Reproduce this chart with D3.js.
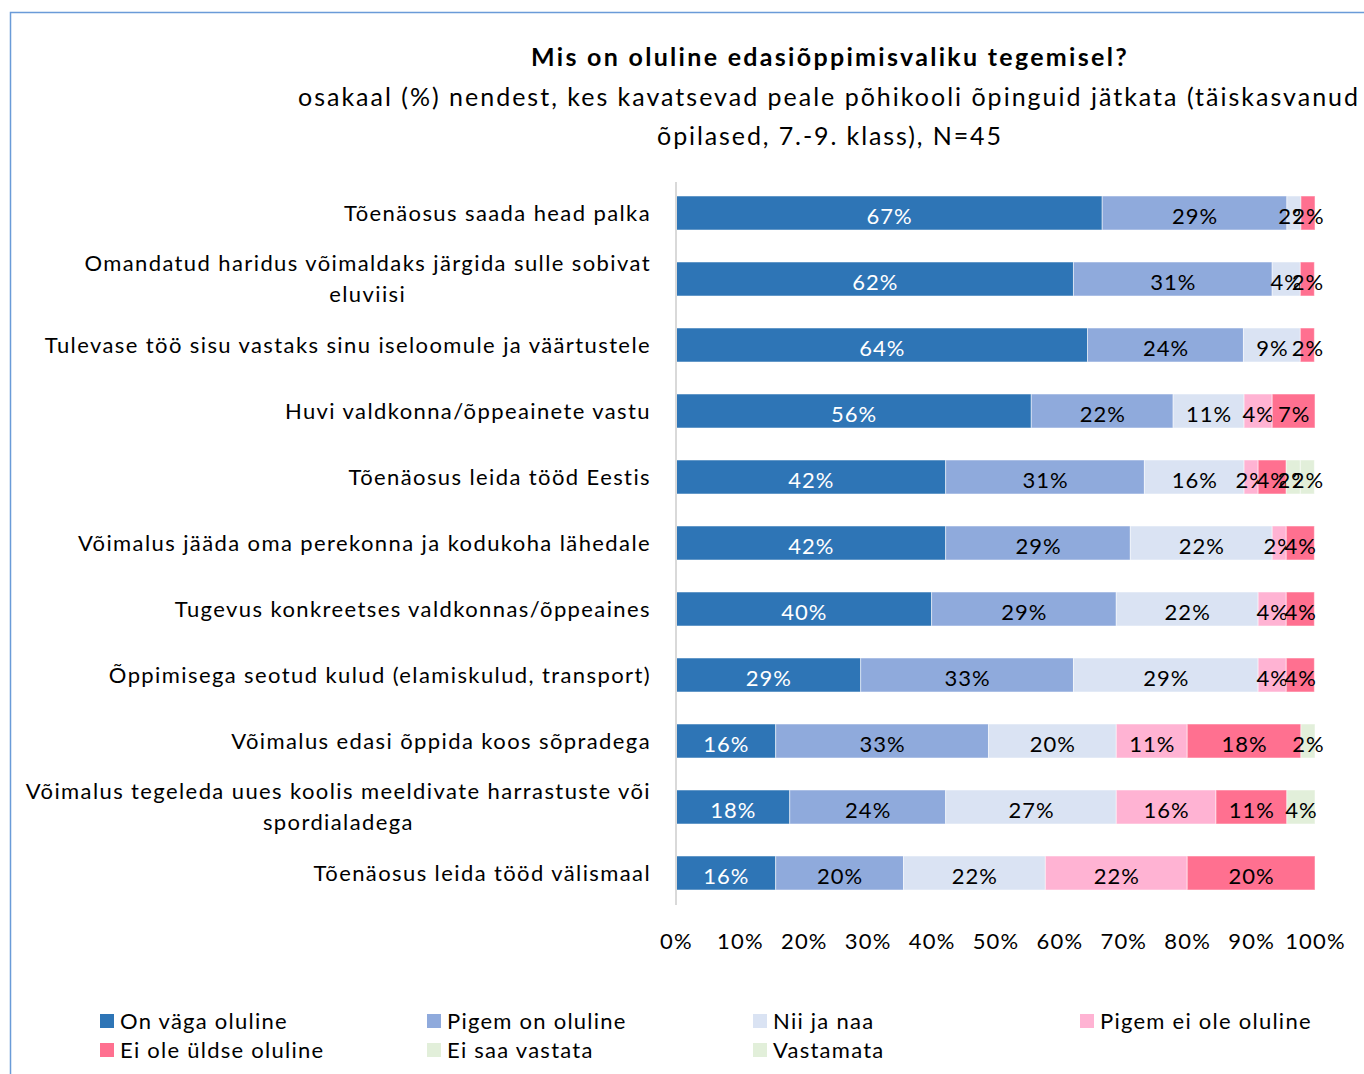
<!DOCTYPE html>
<html>
<head>
<meta charset="utf-8">
<script src="https://cdn.jsdelivr.net/npm/d3@7"></script>
<style>
  html, body { margin: 0; padding: 0; background: #fff; }
  svg { display: block; }
</style>
</head>
<body>
<div id="chart"></div>
<script>
// -------------------- data --------------------
const categories = [
  "Tõenäosus saada head palka",
  "Omandatud haridus võimaldaks järgida sulle sobivat|eluviisi",
  "Tulevase töö sisu vastaks sinu iseloomule ja väärtustele",
  "Huvi valdkonna/õppeainete vastu",
  "Tõenäosus leida tööd Eestis",
  "Võimalus jääda oma perekonna ja kodukoha lähedale",
  "Tugevus konkreetses valdkonnas/õppeaines",
  "Õppimisega seotud kulud (elamiskulud, transport)",
  "Võimalus edasi õppida koos sõpradega",
  "Võimalus tegeleda uues koolis meeldivate harrastuste või|spordialadega",
  "Tõenäosus leida tööd välismaal"
];

const seriesNames = [
  "On väga oluline", "Pigem on oluline", "Nii ja naa", "Pigem ei ole oluline",
  "Ei ole üldse oluline", "Ei saa vastata", "Vastamata"
];

const onVagaOluline  = [66.7, 62.2, 64.4, 55.6, 42.2, 42.2, 40.0, 28.9, 15.6, 17.8, 15.6];
const pigemOnOluline = [28.9, 31.1, 24.4, 22.2, 31.1, 28.9, 28.9, 33.3, 33.3, 24.4, 20.0];
const niiJaNaa       = [2.2, 4.4, 8.9, 11.1, 15.6, 22.2, 22.2, 28.9, 20.0, 26.7, 22.2];
const pigemEiOle     = [0, 0, 0, 4.4, 2.2, 2.2, 4.4, 4.4, 11.1, 15.6, 22.2];
const eiOleUldse     = [2.2, 2.2, 2.2, 6.7, 4.4, 4.4, 4.4, 4.4, 17.8, 11.1, 20.0];
const eiSaaVastata   = [0, 0, 0, 0, 2.2, 0, 0, 0, 2.2, 4.4, 0];
const vastamata      = [0, 0, 0, 0, 2.2, 0, 0, 0, 0, 0, 0];

const xTicks = [0, 10, 20, 30, 40, 50, 60, 70, 80, 90, 100];

const seriesValues = [onVagaOluline, pigemOnOluline, niiJaNaa, pigemEiOle, eiOleUldse, eiSaaVastata, vastamata];
const colors = ["#2E75B6", "#8FAADC", "#DAE3F3", "#FFB3D3", "#FF7090", "#E2EFDA", "#E2EFDA"];

// -------------------- chart --------------------
const W = 1364, H = 1074;
const FONT = "Lato, 'Open Sans', sans-serif";

const svg = d3.select("#chart").append("svg")
  .attr("width", W).attr("height", H)
  .style("font-family", FONT);

// kaadri raam (paremalt ja alt lõigatud)
svg.append("path")
  .attr("d", `M10.5,${H} V12.5 H${W}`)
  .attr("fill", "none")
  .attr("stroke", "#6A9BD8")
  .attr("stroke-width", 1.5);

// pealkiri
svg.append("text")
  .attr("x", 830).attr("y", 66)
  .attr("text-anchor", "middle")
  .attr("font-size", 25).attr("font-weight", "bold")
  .attr("letter-spacing", 2.3)
  .attr("fill", "#000")
  .text("Mis on oluline edasiõppimisvaliku tegemisel?");

svg.append("text")
  .attr("x", 829).attr("y", 106)
  .attr("text-anchor", "middle")
  .attr("font-size", 25)
  .attr("letter-spacing", 2.0)
  .text("osakaal (%) nendest, kes kavatsevad peale põhikooli õpinguid jätkata (täiskasvanud");

svg.append("text")
  .attr("x", 830).attr("y", 145)
  .attr("text-anchor", "middle")
  .attr("font-size", 25)
  .attr("letter-spacing", 1.9)
  .text("õpilased, 7.-9. klass), N=45");

// skaalad
const x = d3.scaleLinear().domain([0, 100]).range([676, 1315]);
const y = d3.scaleBand()
  .domain(categories)
  .range([180, 906])
  .paddingInner(0.485)
  .paddingOuter(0.2425);

// andmed stackiks
const table = categories.map((c, i) => {
  const row = { cat: c };
  seriesNames.forEach((s, j) => { row[s] = seriesValues[j][i]; });
  return row;
});
const stack = d3.stack().keys(seriesNames)(table);

// ribad
const layers = svg.append("g")
  .selectAll("g")
  .data(stack)
  .join("g")
  .attr("fill", (d, i) => colors[i]);

layers.selectAll("rect")
  .data(d => d.filter(p => p[1] - p[0] > 0))
  .join("rect")
  .attr("x", d => x(d[0]))
  .attr("y", d => y(d.data.cat))
  .attr("width", d => x(d[1]) - x(d[0]))
  .attr("height", y.bandwidth())
  .attr("stroke", "#fff")
  .attr("stroke-opacity", 0.5)
  .attr("stroke-width", 1);

// andmesildid
layers.each(function (layer, i) {
  d3.select(this).selectAll("text")
    .data(layer.filter(p => p[1] - p[0] > 0))
    .join("text")
    .attr("x", d => (x(d[0]) + x(d[1])) / 2 + 0.5)
    .attr("y", d => y(d.data.cat) + y.bandwidth() / 2 + 3)
    .attr("dy", "0.36em")
    .attr("text-anchor", "middle")
    .attr("font-size", 22)
    .attr("letter-spacing", 1)
    .attr("fill", i === 0 ? "#fff" : "#000")
    .text(d => Math.round(d[1] - d[0]) + "%");
});

// vertikaaltelg
svg.append("line")
  .attr("x1", x(0)).attr("x2", x(0))
  .attr("y1", 182).attr("y2", 905)
  .attr("stroke", "#D9D9D9")
  .attr("stroke-width", 2);

// kategooriate sildid
const labelRight = 651;
const catG = svg.append("g");
categories.forEach(c => {
  const lines = c.split("|");
  const cy = y(c) + y.bandwidth() / 2;
  const lh = 31;
  const t = catG.append("text")
    .attr("font-size", 22)
    .attr("letter-spacing", 1.4)
    .attr("fill", "#000");
  lines.forEach((ln, k) => {
    t.append("tspan")
      .attr("y", cy + (k - (lines.length - 1) / 2) * lh)
      .attr("dy", "0.36em")
      .text(ln);
  });
  if (lines.length === 1) {
    t.attr("text-anchor", "end").selectAll("tspan").attr("x", labelRight);
  } else {
    const widths = [];
    t.selectAll("tspan").each(function () { widths.push(this.getComputedTextLength()); });
    const cx = labelRight - d3.max(widths) / 2;
    t.attr("text-anchor", "middle").selectAll("tspan").attr("x", cx);
  }
});

// x-telje sildid
const xAxis = d3.axisBottom(x)
  .tickValues(xTicks)
  .tickFormat(d => d + "%")
  .tickSize(0)
  .tickPadding(0);

const xg = svg.append("g")
  .attr("transform", "translate(0,941)")
  .call(xAxis);
xg.select(".domain").remove();
xg.selectAll("text")
  .attr("font-size", 22)
  .attr("font-family", FONT)
  .attr("letter-spacing", 1.2)
  .attr("fill", "#000")
  .attr("dy", "0.36em");

// legend
const legendPos = [
  [100, 1021], [427, 1021], [753, 1021], [1080, 1021],
  [100, 1050], [427, 1050], [753, 1050]
];
const leg = svg.append("g")
  .selectAll("g")
  .data(seriesNames)
  .join("g")
  .attr("transform", (d, i) => `translate(${legendPos[i][0]},${legendPos[i][1]})`);

leg.append("rect")
  .attr("x", 0).attr("y", -7)
  .attr("width", 14).attr("height", 14)
  .attr("fill", (d, i) => colors[i]);

leg.append("text")
  .attr("x", 20).attr("y", 0)
  .attr("dy", "0.36em")
  .attr("font-size", 22)
  .attr("letter-spacing", 1.25)
  .attr("fill", "#000")
  .text(d => d);
</script>
</body>
</html>
